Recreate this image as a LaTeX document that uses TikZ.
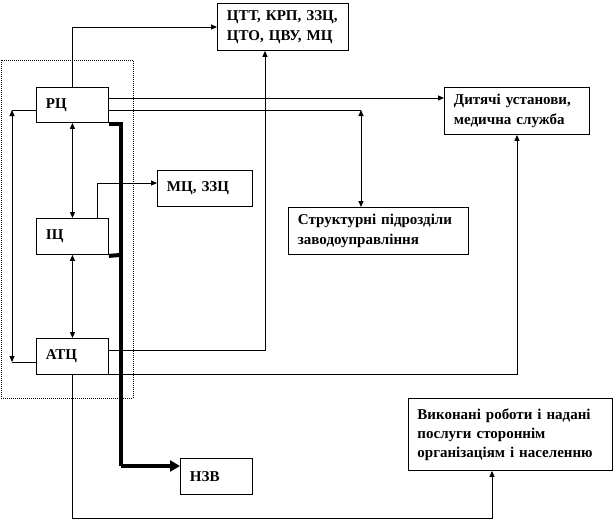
\documentclass[tikz,border=0pt]{standalone}
\usepackage{fontspec}
\setmainfont{Liberation Serif}
\usetikzlibrary{arrows.meta}
\tikzset{
  box/.style={draw, line width=0.9pt, rectangle, anchor=north west, inner xsep=9.5pt, inner ysep=0pt,
    align=left, font=\fontsize{15}{20.5}\selectfont\bfseries},
  arr/.style={line width=0.9pt, -{Triangle[length=6pt,width=5pt]}},
  dbl/.style={line width=0.9pt, {Triangle[length=6pt,width=5pt]}-{Triangle[length=6pt,width=5pt]}},
  plain/.style={line width=0.9pt},
  heavy/.style={line width=4pt},
  heavyarr/.style={line width=4pt, -{Triangle[length=10pt,width=11pt]}},
  frame/.style={draw, line width=0.8pt, dash pattern=on 1pt off 1pt}
}
\begin{document}
\begin{tikzpicture}[x=1pt,y=-1pt]
\useasboundingbox (0,0) rectangle (616,520);
% dotted frame
\node[frame, anchor=north west, minimum width=132pt, minimum height=338pt, inner sep=0pt] (grp) at (0.5,60) {};
% boxes
\node[box, minimum width=131pt, minimum height=47pt, text width=112pt] (ctt) at (217,3)
  {\mbox{ЦТТ, КРП, ЗЗЦ,}\\\mbox{ЦТО, ЦВУ, МЦ}};
\node[box, minimum width=72pt, minimum height=35pt, text width=53pt] (rc) at (36,87) {РЦ};
\node[box, minimum width=72pt, minimum height=36pt, text width=53pt] (ic) at (36,218) {ІЦ};
\node[box, minimum width=72pt, minimum height=36pt, text width=53pt] (atc) at (36,338) {АТЦ};
\node[box, minimum width=95pt, minimum height=36pt, text width=76pt] (mc) at (157,170) {МЦ, ЗЗЦ};
\node[box, minimum width=180pt, minimum height=47pt, text width=161pt] (str) at (288,207)
  {\mbox{Структурні підрозділи}\\\mbox{заводоуправління}};
\node[box, minimum width=145pt, minimum height=47pt, text width=126pt] (dyt) at (444,87)
  {\mbox{Дитячі установи,}\\\mbox{медична служба}};
\node[box, minimum width=204pt, minimum height=72pt, text width=186pt, inner xsep=9pt, font=\fontsize{15}{18.8}\selectfont\bfseries] (vyk) at (408,398)
  {\mbox{Виконані роботи і надані}\\\mbox{послуги стороннім}\\\mbox{організаціям і населенню}};
\node[box, minimum width=72pt, minimum height=36pt, text width=53pt] (nzv) at (180,458) {НЗВ};
% helper coordinates
\coordinate (lt) at (12,110);
\coordinate (lb) at (12,362);
\coordinate (st) at (361,110);
\coordinate (dy) at (0,98);
\coordinate (ctty) at (0,27);
\coordinate (mcx) at (97,183);
\coordinate (tb) at (121,466);
\coordinate (c1) at (265,350);
\coordinate (c2) at (517,374);
\coordinate (c3) at (492,518);
% connectors
\draw[arr] (rc.north) |- (ctt.west |- ctty);
\draw[arr] (rc.east |- dy) -- (dyt.west |- dy);
\draw[plain] (rc.west |- lt) -- (lt);
\draw[dbl] (lt) -- (lb);
\draw[plain] (lb) -- (atc.west |- lb);
\draw[plain] (rc.east |- st) -- (st);
\draw[dbl] (st) -- (st |- str.north);
\draw[dbl] (rc.south) -- (ic.north);
\draw[dbl] (ic.south) -- (atc.north);
\draw[arr] (ic.north -| mcx) |- (mc.west |- mcx);
\draw[heavy] ([yshift=-1.5pt]rc.south east) -| (tb);
\draw[heavy] ([yshift=-1pt]ic.south east) -- (ic.south east -| tb);
\draw[heavyarr] (tb) -- (nzv.west |- tb);
\draw[arr] (atc.east |- c1) -| (c1 |- ctt.south);
\draw[arr] (atc.south east) -| (dyt.south -| c2);
\draw[arr] (atc.south) |- (c3) -- (c3 |- vyk.south);
\end{tikzpicture}
\end{document}
